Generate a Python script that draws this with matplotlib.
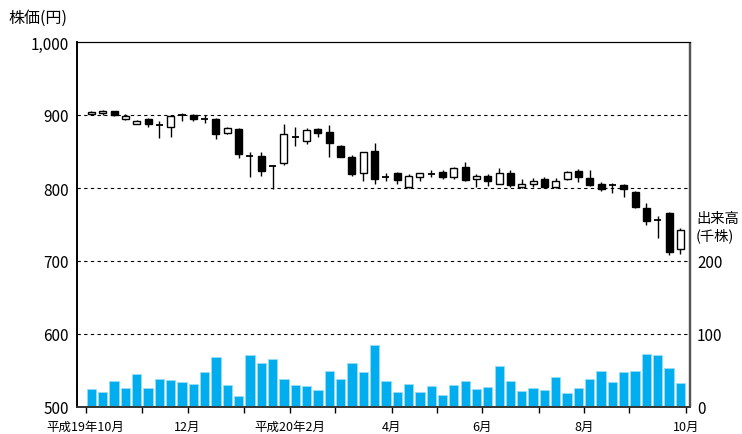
import numpy as np
import matplotlib
matplotlib.use("Agg")
import matplotlib.pyplot as plt

plt.rcParams['font.family'] = ['Noto Sans CJK JP', 'DejaVu Sans']

# weekly prices (yen), Oct 2007 - Oct 2008
opens = [901, 903, 905, 895, 888, 895, 887, 884, 900, 900, 895, 895, 875,
         881, 844, 844, 831, 834, 871, 864, 881, 877, 857, 843, 820, 851,
         816, 820, 801, 815, 820, 822, 815, 829, 813, 817, 806, 820, 801,
         806, 813, 801, 813, 823, 814, 806, 805, 804, 794, 773, 757, 766, 716]
highs = [906, 907, 906, 902, 893, 896, 892, 900, 903, 901, 900, 896, 883,
         882, 850, 850, 832, 887, 884, 882, 882, 886, 859, 845, 850, 862,
         821, 822, 819, 821, 825, 824, 829, 836, 819, 819, 827, 825, 813,
         814, 815, 814, 823, 826, 824, 808, 807, 805, 796, 780, 761, 767, 745]
lows = [900, 900, 899, 893, 887, 884, 868, 870, 892, 892, 889, 867, 874,
        841, 815, 816, 799, 832, 857, 860, 870, 842, 842, 817, 809, 805,
        809, 806, 800, 810, 815, 813, 813, 809, 801, 803, 805, 802, 800,
        801, 800, 800, 811, 808, 803, 796, 793, 787, 773, 750, 731, 708, 710]
closes = [904, 905, 900, 899, 892, 887, 886, 899, 901, 895, 894, 874, 882,
          847, 843, 823, 830, 874, 870, 879, 876, 861, 843, 819, 849, 812,
          815, 811, 816, 820, 819, 815, 827, 811, 817, 810, 820, 804, 806,
          810, 801, 810, 822, 815, 804, 799, 804, 799, 774, 755, 756, 712, 743]
# volume (thousand shares)
volume = [24, 20, 35, 26, 45, 26, 39, 37, 34, 31, 48, 68, 30,
          15, 71, 60, 66, 39, 30, 29, 23, 49, 38, 60, 48, 85,
          35, 21, 32, 21, 29, 16, 30, 36, 25, 27, 56, 36, 22,
          26, 23, 41, 19, 26, 39, 49, 34, 48, 49, 73, 71, 54, 33]

# month boundaries (between weekly bars) and their labels
month_pos = [-0.5, 4.5, 8.5, 13.5, 17.5, 21.5, 26.5, 30.5, 34.5, 39.5, 43.5, 47.5, 52.5]
month_labels = ['平成19年10月', '', '12月', '', '平成20年2月', '', '4月', '',
                '6月', '', '8月', '', '10月']

fig = plt.figure(figsize=(7.42, 4.35), dpi=100)
ax = fig.add_axes([77 / 742, 1 - 408 / 435, 613 / 742, 365 / 435])
ax2 = ax.twinx()

x = np.arange(len(opens))

# volume bars on the right scale
ax2.bar(x, volume, width=0.82, color='#00aeef', edgecolor='#9adcf5', linewidth=0.6, zorder=2)
ax2.set_ylim(0, 500)
ax2.set_yticks([0, 100, 200])
ax2.tick_params(axis='y', length=0, pad=5, labelsize=11)

# candles
for i in range(len(opens)):
    o, h, l, c = opens[i], highs[i], lows[i], closes[i]
    ax.vlines(i, l, h, color='black', linewidth=1.0, zorder=3)
    lo = min(o, c)
    hgt = max(abs(c - o), 0.8)
    face = 'white' if c > o else 'black'
    if abs(c - o) < 1.5:
        ax.hlines((o + c) / 2, i - 0.31, i + 0.31, color='black', linewidth=1.3, zorder=4)
    else:
        ax.bar(i, hgt, bottom=lo, width=0.62, facecolor=face, edgecolor='black',
               linewidth=1.0, zorder=4)

ax.set_ylim(500, 1000)
ax.set_xlim(-1.27, 52.85)
ax.set_yticks([500, 600, 700, 800, 900, 1000])
ax.set_yticklabels(['500', '600', '700', '800', '900', '1,000'])
ax.tick_params(axis='y', length=0, pad=6, labelsize=11)
ax.set_xticks(month_pos)
ax.set_xticklabels(month_labels, fontsize=9)
ax.tick_params(axis='x', direction='out', length=4, width=1, pad=5)

for yv in [600, 700, 800, 900]:
    ax.axhline(yv, color='black', linewidth=0.8, linestyle=(0, (3, 3)), zorder=1)

for a in (ax, ax2):
    a.spines['top'].set_linewidth(0.8)
    a.spines['left'].set_linewidth(1.2)
    a.spines['bottom'].set_linewidth(1.2)
    a.spines['right'].set_linewidth(1.6)
    a.spines['right'].set_color('#555555')
    a.spines['bottom'].set_color('#333333')
    a.spines['right'].set_capstyle('butt')

ax.set_zorder(ax2.get_zorder() + 1)
ax.patch.set_visible(False)

fig.text(8 / 742, 1 - 18 / 435, '株価(円)', fontsize=11.5, va='center', ha='left')
fig.text(696 / 742, 1 - 212 / 435, '出来高\n(千株)', fontsize=10.3, va='top', ha='left',
         linespacing=1.2)

fig.savefig('out.png', dpi=100)
